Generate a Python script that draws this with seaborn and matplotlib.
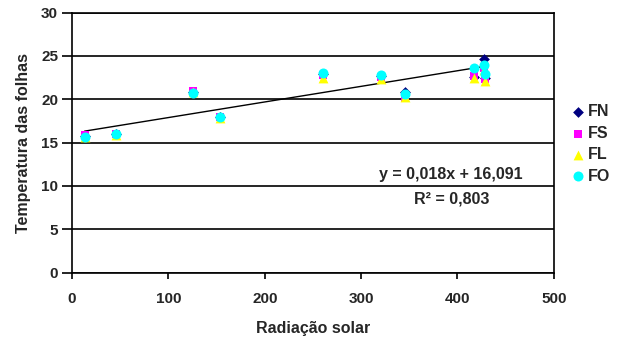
import numpy as np
import pandas as pd
import matplotlib
matplotlib.use("Agg")
import matplotlib.pyplot as plt
import seaborn as sns

# Data
radiacao = [13, 46, 126, 154, 260, 321, 346, 417, 427, 429]
FN = [15.8, 16.0, 20.8, 17.9, 22.9, 22.7, 20.8, 22.6, 24.7, 22.5]
FS = [15.9, 16.0, 20.9, 17.9, 22.8, 22.6, 20.1, 22.7, 23.6, 22.3]
FL = [15.7, 15.9, 20.8, 17.8, 22.4, 22.3, 20.3, 22.4, 23.4, 22.1]
FO = [15.6, 16.0, 20.7, 17.9, 23.0, 22.8, 20.6, 23.6, 24.0, 22.9]
series_names = ["FN", "FS", "FL", "FO"]
slope, intercept, r2 = 0.018, 16.091, 0.803
x_ticks = [0, 100, 200, 300, 400, 500]
y_ticks = [0, 5, 10, 15, 20, 25, 30]

rows = []
for name, vals in zip(series_names, [FN, FS, FL, FO]):
    for xv, yv in zip(radiacao, vals):
        rows.append({"x": xv, "y": yv, "s": name})
df = pd.DataFrame(rows)

sns.set_theme(style="white")
plt.rcParams["font.family"] = ["Liberation Sans", "DejaVu Sans"]
plt.rcParams["font.weight"] = "bold"

fig = plt.figure(figsize=(6.23, 3.40), dpi=100)
ax = fig.add_axes([0.1156, 0.198, 0.889 - 0.1156, 0.963 - 0.198])

palette = {"FN": "#000080", "FS": "#FF00FF", "FL": "#FFFF00", "FO": "#00FFFF"}
markers = {"FN": "D", "FS": "s", "FL": "^", "FO": "o"}
sizes_map = {"FN": 30, "FS": 40, "FL": 50, "FO": 52}

for name in series_names:
    sub = df[df["s"] == name]
    sns.scatterplot(data=sub, x="x", y="y", color=palette[name], marker=markers[name],
                    s=sizes_map[name], linewidth=0, ax=ax, label=name, zorder=3)

# trend line
xl = np.array([min(radiacao), max(radiacao)])
ax.plot(xl, slope * xl + intercept, color="black", lw=1.0, zorder=2)

ax.text(393.5, 11.3, "y = 0,018x + 16,091", ha="center", va="center",
        fontsize=11.5, fontweight="bold")
ax.text(393.5, 8.55, "R\u00b2 = 0,803", ha="center", va="center",
        fontsize=11.5, fontweight="bold")

ax.set_xlim(0, 500)
ax.set_ylim(0, 30)
ax.set_xticks(x_ticks)
ax.set_yticks(y_ticks)
ax.yaxis.grid(True, color="black", lw=1.2)
ax.set_axisbelow(True)
for sp in ax.spines.values():
    sp.set_color("black")
    sp.set_linewidth(1.2)
ax.tick_params(axis="both", direction="out", width=1.2, color="black",
               labelsize=11, bottom=True, left=True)
ax.tick_params(axis="x", length=4, pad=10)
ax.tick_params(axis="y", length=7, pad=3)
for lab in ax.get_xticklabels() + ax.get_yticklabels():
    lab.set_fontweight("bold")
ax.set_xlabel("Radiação solar", fontsize=11.5, fontweight="bold", labelpad=11)
ax.set_ylabel("Temperatura das folhas", fontsize=11.5, fontweight="bold", labelpad=7)

leg = ax.legend(loc="center left", bbox_to_anchor=(1.0365, 0.495), frameon=False,
                prop={"weight": "bold", "size": 11.5}, handletextpad=0.25,
                labelspacing=0.4, borderaxespad=0, borderpad=0, handlelength=0.8)

fig.savefig("out.png", dpi=100)
